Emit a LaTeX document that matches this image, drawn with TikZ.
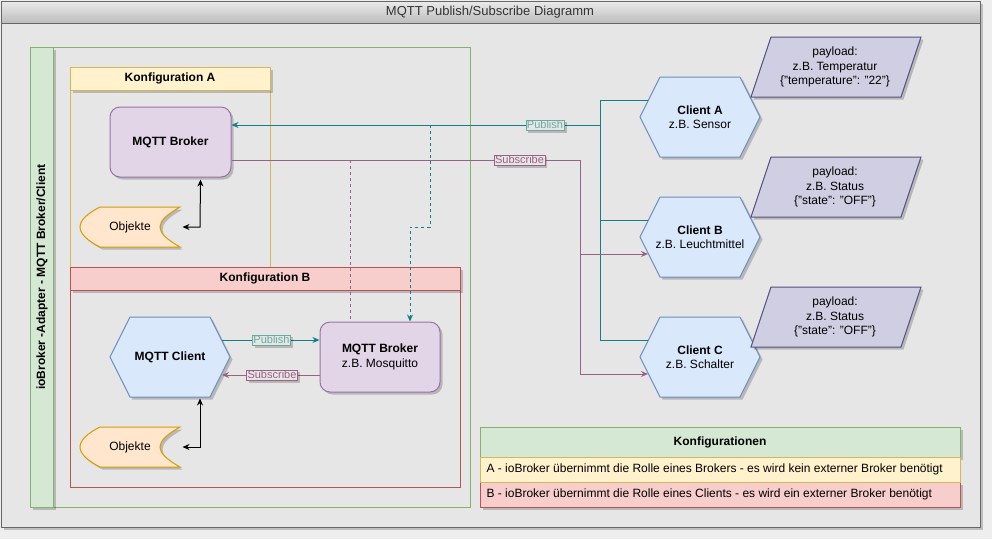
\documentclass[tikz,border=0pt]{standalone}
\usepackage{fontspec}
\setmainfont{Liberation Sans}
\usetikzlibrary{arrows.meta,shadows}
\definecolor{outbg}{HTML}{EEEEEE}
\definecolor{framebg}{HTML}{E6E6E6}
\definecolor{framebd}{HTML}{666666}
\definecolor{titletxt}{HTML}{333333}
\definecolor{gfill}{HTML}{D5E8D4}
\definecolor{gbd}{HTML}{82B366}
\definecolor{yfill}{HTML}{FFF2CC}
\definecolor{ybd}{HTML}{D6B656}
\definecolor{rfill}{HTML}{F8CECC}
\definecolor{rbd}{HTML}{B85450}
\definecolor{pfill}{HTML}{E1D5E7}
\definecolor{pbd}{HTML}{9673A6}
\definecolor{bfill}{HTML}{DAE8FC}
\definecolor{bbd}{HTML}{6C8EBF}
\definecolor{ofill}{HTML}{FFE6CC}
\definecolor{obd}{HTML}{D79B00}
\definecolor{payfill}{HTML}{D0CEE2}
\definecolor{paybd}{HTML}{56517E}
\definecolor{teal}{HTML}{0E8088}
\definecolor{teallbl}{HTML}{67AB9F}
\definecolor{subcol}{HTML}{996185}
\newcommand\twelve{\fontsize{12pt}{14.5pt}\selectfont}
\newcommand\thirteen{\fontsize{13pt}{15pt}\selectfont}
\newcommand\eleven{\fontsize{11pt}{13pt}\selectfont}
\newcommand\hexat[2]{\filldraw[hexst] (#1-40,#2-40) -- (#1+40,#2-40) -- (#1+60,#2) -- (#1+40,#2+40) -- (#1-40,#2+40) -- (#1-60,#2) -- cycle;}
\newcommand\parat[1]{\filldraw[parst] (771,#1) -- (921,#1) -- (901,#1+60) -- (751,#1+60) -- cycle;}
\newcommand\objat[1]{\filldraw[objst] (100,#1-20) -- (180,#1-20) .. controls (166,#1-12) and (160,#1-6) .. (160,#1) .. controls (160,#1+6) and (166,#1+12) .. (180,#1+20) -- (100,#1+20) .. controls (88,#1+14) and (80,#1+7) .. (80,#1) .. controls (80,#1-7) and (88,#1-14) .. (100,#1-20) -- cycle;}
\begin{document}
\begin{tikzpicture}[x=1pt,y=-1pt,line width=1pt,
  shd/.style={drop shadow={shadow xshift=2.5pt,shadow yshift=-2.5pt,opacity=0.2,fill=black}},
  txt/.style={font=\twelve,align=center,text=black,inner sep=0pt},
  hexst/.style={fill=bfill,draw=bbd,shd},
  parst/.style={fill=payfill,draw=paybd,shd},
  objst/.style={fill=ofill,draw=obd,shd},
  brokerst/.style={txt,fill=pfill,draw=pbd,rounded corners=10pt,shd},
  hdr/.style={txt,font=\twelve\bfseries,minimum height=23pt,shd},
  publine/.style={draw=teal,line width=1pt},
  subline/.style={draw=subcol,line width=1pt},
  tip/.style={-{Stealth[length=7pt,width=6pt]}},
  dtip/.style={{Stealth[length=7pt,width=6pt]}-{Stealth[length=7pt,width=6pt]}},
  publbl/.style={font=\eleven,text=teallbl,draw=teallbl,fill=framebg,inner sep=1pt,line width=0.9pt,shd},
  sublbl/.style={font=\eleven,text=subcol,draw=subcol,fill=framebg,inner sep=1pt,line width=0.9pt,shd},
  rowst/.style={font=\twelve,text=black,anchor=west,inner sep=0pt}
]
\useasboundingbox (0,0) rectangle (992,539);
\fill[outbg] (0,0) rectangle (992,539);
% outer frame
\filldraw[fill=framebg,draw=framebd,shd] (1,1) rectangle (980,527);
\shade[top color=white!92!black,bottom color=white!74!black] (1,1) rectangle (980,23);
\draw[framebd] (1,1) rectangle (980,527);
\draw[framebd] (1,23) -- (980,23);
\node[txt,font=\thirteen,text=titletxt] (title) at (490,12.5) {MQTT Publish/Subscribe Diagramm};
% green container
\draw[gbd] (30,47) rectangle (470,507);
\filldraw[fill=gfill,draw=gbd,shd] (30,47) rectangle (53,507);
\node[txt,font=\twelve\bfseries,rotate=90] (side) at (42,277) {ioBroker -Adapter - MQTT Broker/Client};
% Konfiguration A
\draw[ybd] (70,67) rectangle (270,267);
\node[hdr,fill=yfill,draw=ybd,minimum width=200pt] (ka) at (170,78.5) {Konfiguration A};
% Konfiguration B
\draw[rbd] (70,267) rectangle (460,487);
\node[hdr,fill=rfill,draw=rbd,minimum width=390pt] (kb) at (265,278.5) {Konfiguration B};
% Broker A
\node[brokerst,font=\twelve\bfseries,minimum width=121pt,minimum height=70pt] (ba) at (170.5,142) {MQTT Broker};
% Objekte A
\objat{227}
\node[txt,minimum width=100pt,minimum height=40pt] (oa) at (130,227) {Objekte};
% MQTT Client
\hexat{170}{357}
\node[txt,minimum width=120pt,minimum height=80pt] (mc) at (170,357) {\textbf{MQTT Client}};
% Broker B
\node[brokerst,minimum width=120pt,minimum height=70pt] (bb) at (380,357) {\textbf{MQTT Broker}\\z.B. Mosquitto};
% Objekte B
\objat{447}
\node[txt,minimum width=100pt,minimum height=40pt] (ob) at (130,447) {Objekte};
% Clients
\hexat{700}{117}
\node[txt,minimum width=120pt,minimum height=80pt] (ca) at (700,117) {\textbf{Client A}\\z.B. Sensor};
\hexat{700}{237}
\node[txt,minimum width=120pt,minimum height=80pt] (cb) at (700,237) {\textbf{Client B}\\z.B. Leuchtmittel};
\hexat{700}{357}
\node[txt,minimum width=120pt,minimum height=80pt] (cc) at (700,357) {\textbf{Client C}\\z.B. Schalter};
% payloads
\parat{37}
\node[txt] (pa) at (835,67) {payload:\\z.B. Temperatur\\\{"temperature": "22"\}};
\parat{157}
\node[txt] (pb) at (835,187) {payload:\\z.B. Status\\\{"state": "OFF"\}};
\parat{287}
\node[txt] (pc) at (835,317) {payload:\\z.B. Status\\\{"state": "OFF"\}};
% publish bus
\coordinate (busA) at (600,100);
\coordinate (busB) at (600,220);
\coordinate (busC) at (600,340);
\coordinate (busP) at (600,125);
\draw[publine] ([shift={(8.5,-17)}]ca.west) -- (busA) -- (busC) -- ([shift={(8.5,-17)}]cc.west);
\draw[publine] (busB) -- ([shift={(8.5,-17)}]cb.west);
\draw[publine,tip] (busP) -- ([yshift=17pt]ba.east);
% subscribe bus
\coordinate (subS) at (580,160);
\coordinate (subB) at (580,254);
\coordinate (subC) at (580,374);
\draw[subline] ([yshift=-18pt]ba.east) -- (subS);
\draw[subline,tip] (subS) |- ([shift={(8.5,17)}]cc.west);
\draw[subline,tip] (subB) -- ([shift={(8.5,17)}]cb.west);
% dashed links to broker B
\coordinate (dT) at (430,125);
\coordinate (dP) at (350,160);
\draw[publine,dash pattern=on 3pt off 3pt,tip] (dT) -- (430,227) -- (410,227) -- ([xshift=30pt]bb.north);
\draw[subline,line width=0.9pt,dash pattern=on 3pt off 3pt] (dP) -- ([xshift=-30pt]bb.north);
% labels on main lines
\node[publbl] (lp1) at (545,125) {Publish};
\node[sublbl] (ls1) at (519.5,160) {Subscribe};
% Konf B arrows
\draw[publine,tip] ([shift={(-8.5,-17)}]mc.east) -- ([yshift=17pt]bb.west);
\draw[subline,tip] ([yshift=-18pt]bb.west) -- ([shift={(-8.5,18)}]mc.east);
\node[publbl] (lp2) at (271.5,340) {Publish};
\node[sublbl] (ls2) at (272,375) {Subscribe};
% Objekte arrows
\draw[black,dtip] ([xshift=30pt,yshift=-2pt]ba.south) -- (200,227) -- ([xshift=2pt]oa.east);
\draw[black,dtip] ([xshift=30pt,yshift=-1pt]mc.south) -- (200,447) -- ([xshift=2pt]ob.east);
% table
\node[hdr,fill=gfill,draw=gbd,minimum width=480pt,minimum height=30pt] (th) at (720,442) {Konfigurationen};
\filldraw[fill=rfill,draw=rbd,shd] (480,482) rectangle (960,507);
\filldraw[fill=yfill,draw=ybd] (480,457) rectangle (960,482);
\node[rowst] (ra) at (486,469.5) {A - ioBroker übernimmt die Rolle eines Brokers - es wird kein externer Broker benötigt};
\node[rowst] (rb) at (486,494.5) {B - ioBroker übernimmt die Rolle eines Clients - es wird ein externer Broker benötigt};
\end{tikzpicture}
\end{document}
